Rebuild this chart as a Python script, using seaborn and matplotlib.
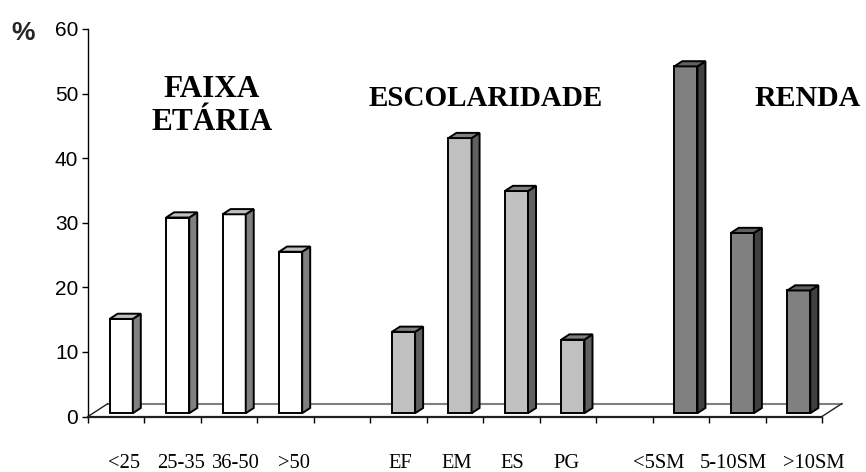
import numpy as np
import pandas as pd
import matplotlib
matplotlib.use("Agg")
import matplotlib.pyplot as plt
import seaborn as sns
from matplotlib.patches import Polygon
from matplotlib.lines import Line2D
from matplotlib.transforms import ScaledTranslation

# ---------------- data ----------------
categories = ["<25", "25-35", "36-50", ">50", " ",
              "EF", "EM", "ES", "PG", "  ",
              "<5SM", "5-10SM", ">10SM"]
age_cats = ["<25", "25-35", "36-50", ">50"]
age_vals = [14.6, 30.3, 30.8, 25.0]
edu_cats = ["EF", "EM", "ES", "PG"]
edu_vals = [12.6, 42.6, 34.4, 11.4]
inc_cats = ["<5SM", "5-10SM", ">10SM"]
inc_vals = [53.7, 27.9, 19.0]
group_names = ["FAIXA\nETÁRIA", "ESCOLARIDADE", "RENDA"]
y_ticks = [0, 10, 20, 30, 40, 50, 60]

df = pd.DataFrame({
    "cat": age_cats + edu_cats + inc_cats,
    "val": age_vals + edu_vals + inc_vals,
    "group": [group_names[0]] * len(age_cats)
             + [group_names[1]] * len(edu_cats)
             + [group_names[2]] * len(inc_cats),
})

# ---------------- style ----------------
front_col = {group_names[0]: "#ffffff", group_names[1]: "#c0c0c0", group_names[2]: "#808080"}
side_col = {group_names[0]: "#808080", group_names[1]: "#606060", group_names[2]: "#404040"}
top_col = {group_names[0]: "#c0c0c0", group_names[1]: "#808080", group_names[2]: "#606060"}

sns.set_theme(style="white")
plt.rcParams["font.family"] = ["Liberation Sans", "DejaVu Sans"]

W, H, DPI = 866, 472, 100
fig = plt.figure(figsize=(W / DPI, H / DPI), dpi=DPI)
ax_left, ax_right, ax_top, ax_bot = 88, 822, 29, 416.5
ax = fig.add_axes([ax_left / W, (H - ax_bot) / H,
                   (ax_right - ax_left) / W, (ax_bot - ax_top) / H])

sns.barplot(data=df, x="cat", y="val", hue="group", order=categories,
            hue_order=group_names, palette=front_col, dodge=False,
            width=0.41, saturation=1, edgecolor="black", linewidth=1.4,
            legend=False, ax=ax, zorder=3)

ax.set_xlim(-0.5, len(categories) - 0.5)
ax.set_ylim(0, 60)

# pixel -> data conversion
kx = (len(categories)) / (ax_right - ax_left)
ky = 60 / (ax_bot - ax_top)

bar_off = (5 * kx, 3.3 * ky)      # bar front plane
depth = (8 * kx, 5.2 * ky)        # bar depth
wall = (20 * kx, 13 * ky)         # back floor edge

cat_group = dict(zip(df["cat"], df["group"]))

for p in list(ax.patches):
    x0, w, h = p.get_x(), p.get_width(), p.get_height()
    if not np.isfinite(h) or h == 0:
        continue
    idx = int(round(x0 + w / 2))
    g = cat_group[categories[idx]]
    bx, by = bar_off
    dx, dy = depth
    p.set_x(x0 + bx)
    p.set_y(by)
    p.set_clip_on(False)
    xr = x0 + w + bx
    side = Polygon([(xr, by), (xr, h + by), (xr + dx, h + by + dy), (xr + dx, by + dy)],
                   closed=True, facecolor=side_col[g], edgecolor="black",
                   linewidth=1.4, zorder=3, clip_on=False, joinstyle="miter")
    top = Polygon([(x0 + bx, h + by), (xr, h + by), (xr + dx, h + by + dy), (x0 + bx + dx, h + by + dy)],
                  closed=True, facecolor=top_col[g], edgecolor="black",
                  linewidth=1.4, zorder=3, clip_on=False, joinstyle="miter")
    ax.add_patch(side)
    ax.add_patch(top)

# floor
x_lo, x_hi = -0.5, len(categories) - 0.5
ax.add_line(Line2D([x_lo + wall[0], x_hi + wall[0]], [wall[1], wall[1]],
                   color="#808080", lw=1.5, zorder=1, clip_on=False))
ax.add_line(Line2D([x_lo, x_lo + wall[0]], [0, wall[1]], color="#202020",
                   lw=1.0, zorder=1, clip_on=False))
ax.add_line(Line2D([x_hi, x_hi + wall[0]], [0, wall[1]], color="#202020",
                   lw=1.0, zorder=1, clip_on=False))

# spines
for s in ["top", "right"]:
    ax.spines[s].set_visible(False)
ax.spines["left"].set_color("black")
ax.spines["left"].set_linewidth(1.0)
ax.spines["bottom"].set_color("#202020")
ax.spines["bottom"].set_linewidth(1.6)

# ticks
ax.set_yticks(y_ticks)
ax.set_yticklabels([str(v) for v in y_ticks])
ax.tick_params(axis="y", direction="out", length=4, width=1, color="black",
               labelsize=15, pad=3, left=True, labelcolor="black")
ax.set_xticks(np.arange(-0.5, len(categories), 1.0))
ax.set_xticklabels([])
ax.tick_params(axis="x", direction="out", length=4, width=1, color="black", bottom=True)
ax.set_xlabel("")
ax.set_ylabel("")

# category labels (centered under slots, small per-label nudges as in reference)
label_nudge_px = [8, 8, 7, 8, 0, 2, 2, 1, -1, 0, -22, -4, 20]
xt = ax.get_xaxis_transform()
for i, (lab, nd) in enumerate(zip(categories, label_nudge_px)):
    if not lab.strip():
        continue
    tr = xt + ScaledTranslation(nd / DPI, -51.5 / DPI, fig.dpi_scale_trans)
    ax.text(i, 0, lab, transform=tr, ha="center", va="baseline",
            fontsize=14.8, family=["Liberation Serif", "DejaVu Serif"], color="black")

# percent sign
fig.text(23 / W, 1 - 33 / H, "%", ha="center", va="center", fontsize=19,
         fontweight="bold", family=["Liberation Sans", "DejaVu Sans"])

# group titles
title_pos = [(212, 106), (486, 98), (808, 98)]
title_size = [22.5, 21, 21.5]
for name, (px, py), fs in zip(group_names, title_pos, title_size):
    fig.text(px / W, 1 - py / H, name, ha="center", va="center", fontsize=fs,
             fontweight="bold", family=["Liberation Serif", "DejaVu Serif"],
             linespacing=1.15, color="black")

fig.savefig("out.png", dpi=DPI, facecolor="white")
